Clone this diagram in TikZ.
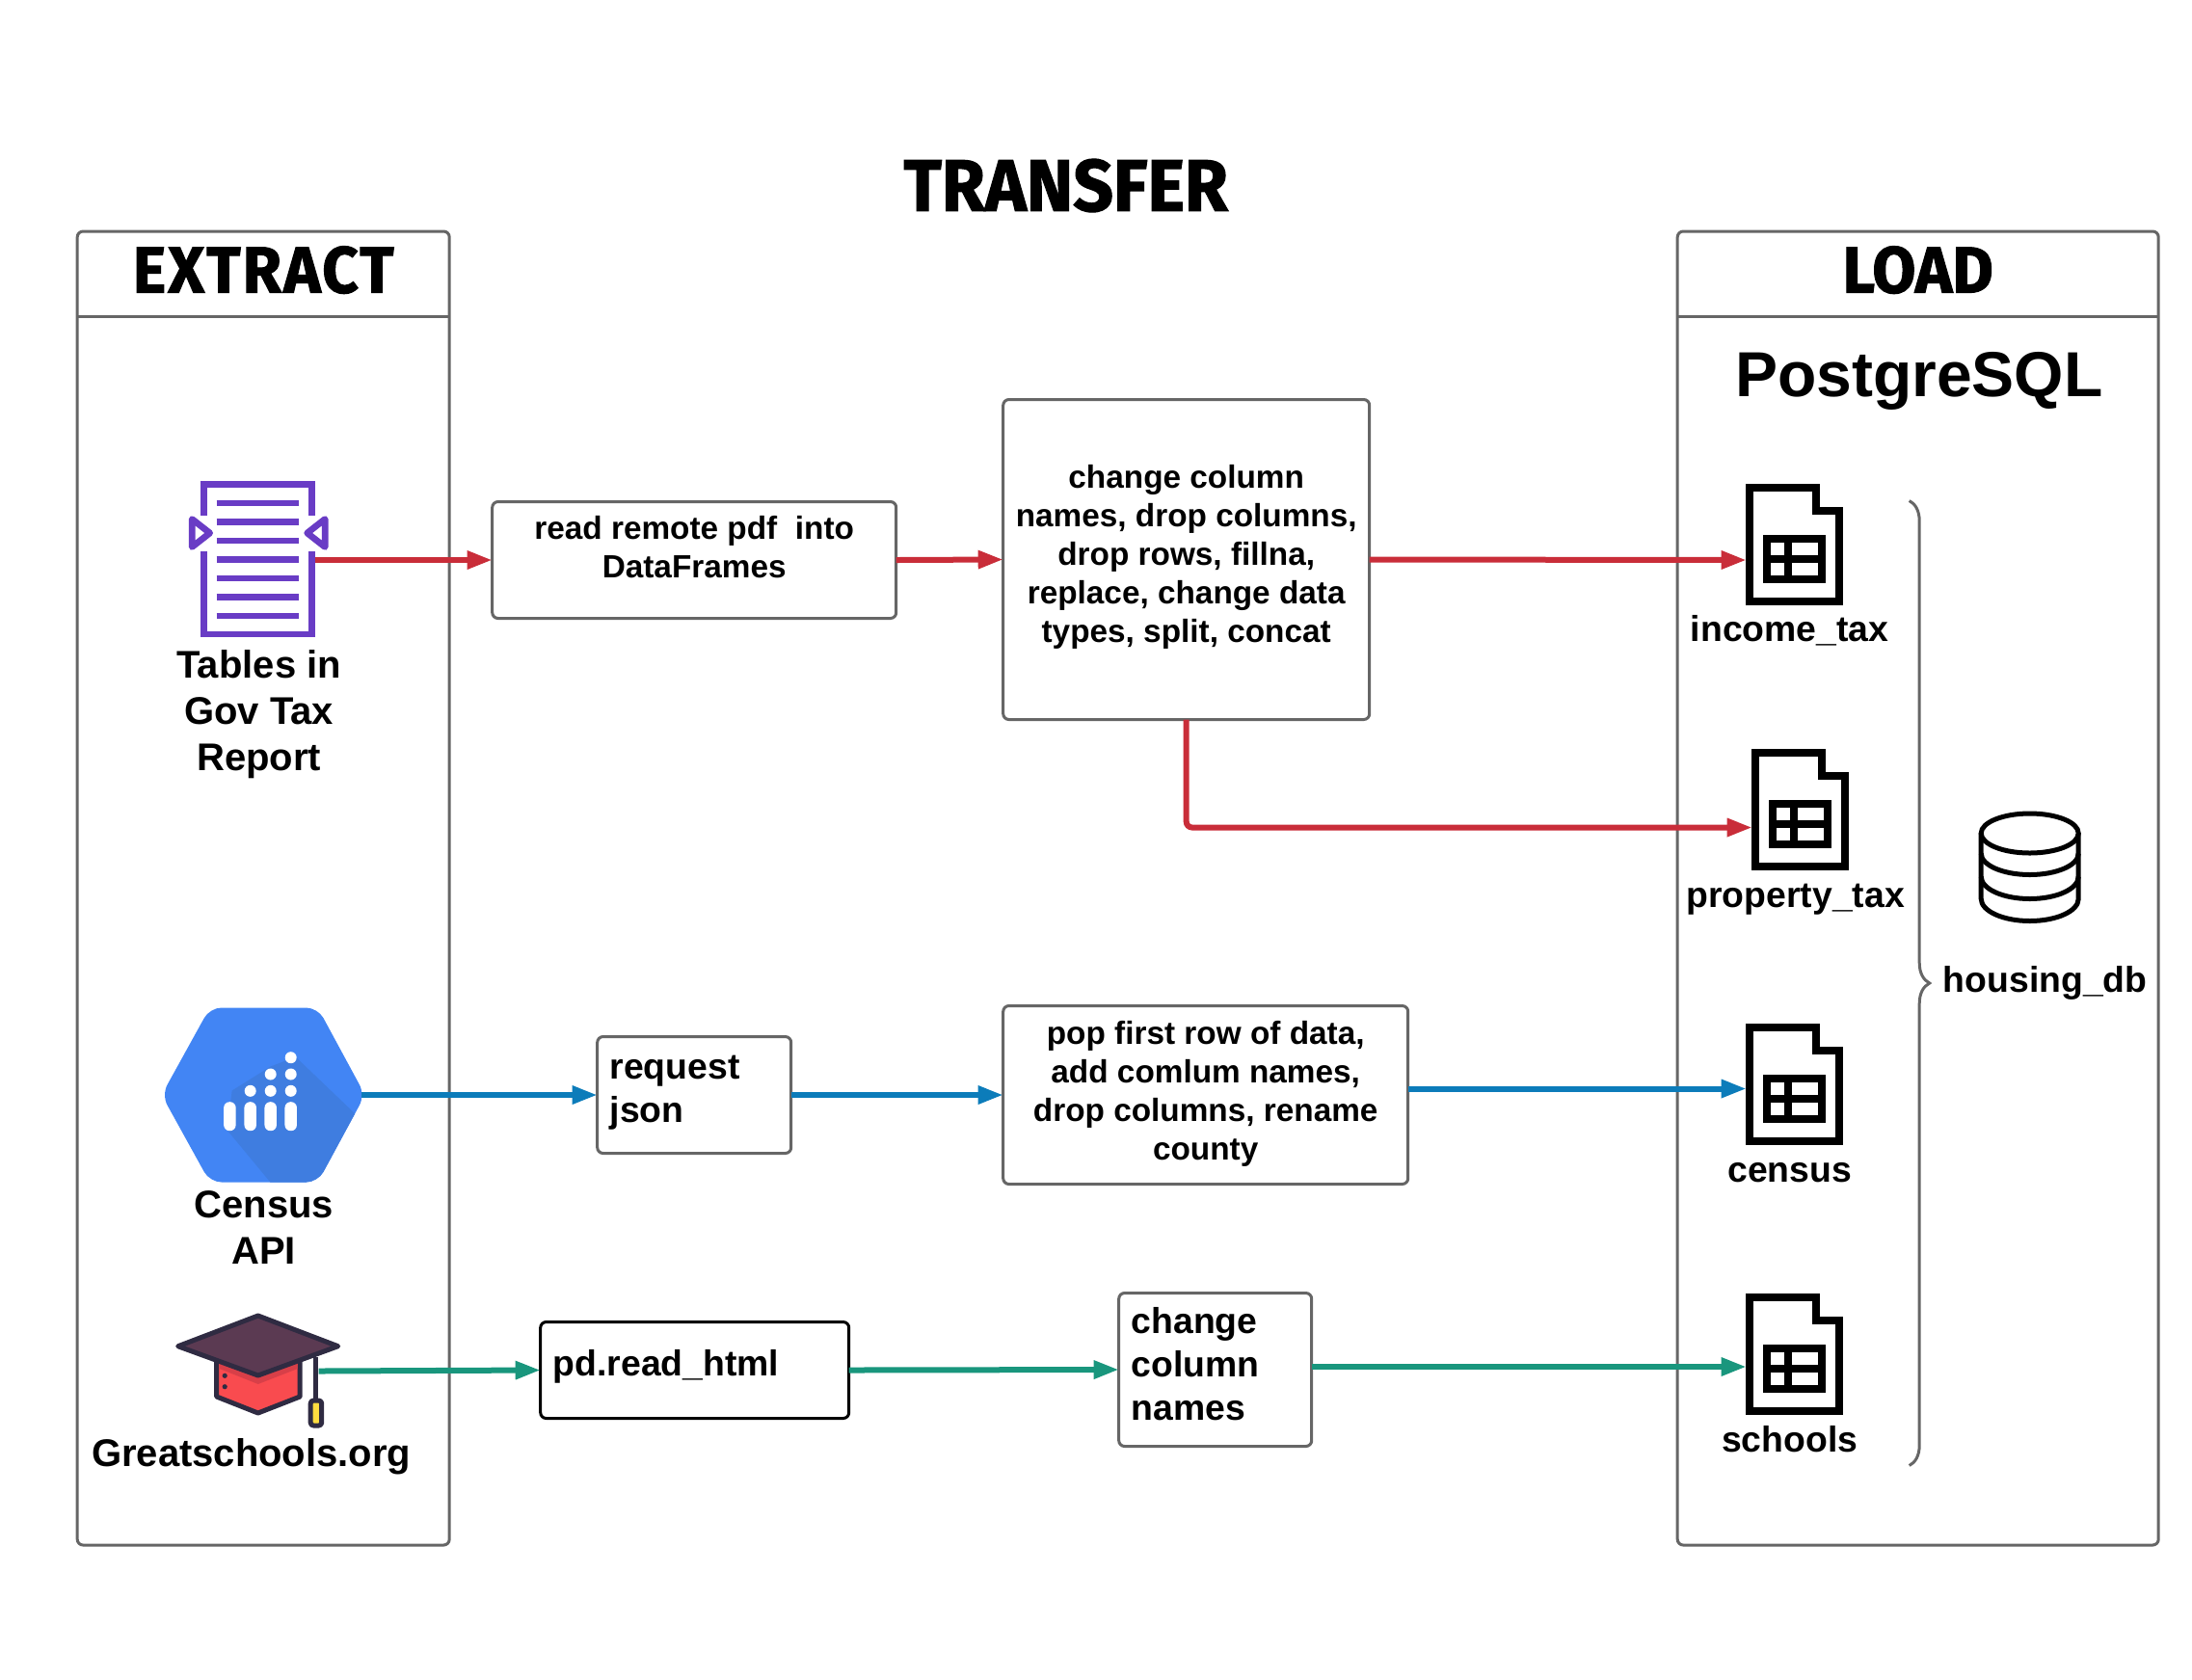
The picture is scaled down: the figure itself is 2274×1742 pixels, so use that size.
\documentclass[tikz,border=0pt]{standalone}
\usepackage{fontspec}
\setmainfont{Liberation Sans}
\newfontfamily\handfont[FakeStretch=0.96,FakeBold=1.5]{Fira Sans}
\usetikzlibrary{arrows.meta,decorations.pathreplacing}
\definecolor{edgegrey}{HTML}{666666}
\definecolor{flowred}{HTML}{C92D39}
\definecolor{flowblue}{HTML}{0C7CBA}
\definecolor{flowgreen}{HTML}{19967D}
\definecolor{pdfpurple}{HTML}{693CC5}
\definecolor{hexblue}{HTML}{4285F4}
\definecolor{hexshade}{HTML}{3F7DE0}
\definecolor{hatdark}{HTML}{2F2B42}
\definecolor{hatcap}{HTML}{5B3A52}
\definecolor{hatred}{HTML}{F94B4F}
\definecolor{hatband}{HTML}{D83F48}
\definecolor{hatgold}{HTML}{FFDD40}
\tikzset{
    panelbox/.style={draw=edgegrey,line width=1.5pt,rounded corners=3pt,inner sep=0pt,outer sep=0pt},
    headbox/.style={inner sep=0pt,outer sep=0pt,text depth=4.5pt,font=\fontsize{34}{40}\selectfont\handfont\bfseries},
    stepbox/.style={draw=edgegrey,line width=1.5pt,rounded corners=3pt,inner sep=0pt,outer sep=0pt,
        align=center,font=\fontsize{16.67}{20}\selectfont\bfseries},
    leftbox/.style={draw=edgegrey,line width=1.5pt,rounded corners=3pt,inner ysep=0pt,inner xsep=6.5pt,outer sep=0pt,
        align=left,font=\fontsize{18.67}{22.5}\selectfont\bfseries},
    srclabel/.style={align=center,inner sep=0pt,font=\fontsize{20}{24}\selectfont\bfseries},
    tablabel/.style={align=center,inner sep=0pt,font=\fontsize{18.67}{24}\selectfont\bfseries},
    redflow/.style={draw=flowred,line width=3pt,-{Triangle[length=13pt,width=9pt]}},
    blueflow/.style={draw=flowblue,line width=3pt,-{Triangle[length=13pt,width=9pt]}},
    greenflow/.style={draw=flowgreen,line width=3pt,-{Triangle[length=13pt,width=9pt]}},
    pics/tableicon/.style={code={
        \draw[line width=4pt,miter limit=10] (4,4) -- (73,4) -- (73,28) -- (97,28) -- (97,122) -- (4,122) -- cycle;
        \draw[line width=4pt] (22,57) rectangle (79,99.6);
        \draw[line width=4pt] (43.5,57) -- (43.5,99.6);
        \draw[line width=4pt] (22,78.8) -- (79,78.8);
    }}
}
\begin{document}
\begin{tikzpicture}[x=0.5pt,y=-0.5pt]
    \useasboundingbox (-0.7,-1.5) rectangle (2273.3,1740.5);

    \node[panelbox,minimum width=193pt,minimum height=681.5pt] (extractpanel) at (272.5,920) {};
    \node[headbox,minimum width=193pt,minimum height=44pt] (extracthead) at (272.5,282.5) {\addfontfeature{LetterSpace=3.2}EXTRACT};
    \draw[edgegrey,line width=1.5pt] (extracthead.south west) -- (extracthead.south east);

    \node[panelbox,minimum width=249.5pt,minimum height=681.5pt] (loadpanel) at (1989,920) {};
    \node[headbox,minimum width=249.5pt,minimum height=44pt] (loadhead) at (1989,282.5) {LOAD};
    \draw[edgegrey,line width=1.5pt] (loadhead.south west) -- (loadhead.south east);

    \node[inner sep=0pt,font=\fontsize{38}{44}\selectfont\handfont\bfseries] (transferhead) at (1105,191) {TRANSFER};
    \node[inner sep=0pt,font=\fontsize{33}{38}\selectfont\bfseries] (dbname) at (1990,394) {PostgreSQL};

    \begin{scope}[pdfpurple,line width=3.35pt]
        \draw (211,533) -- (211,501) -- (323,501) -- (323,533);
        \draw (211,570) -- (211,656.5) -- (323,656.5) -- (323,570);
        \draw[line join=round] (198.5,537) -- (217,551.5) -- (198.5,566) -- cycle;
        \draw[line join=round] (336.5,537) -- (318,551.5) -- (336.5,566) -- cycle;
        \foreach \liney in {520.5,540,559.4,579,598.6,618,637.5}
            \draw (224,\liney) -- (309,\liney);
    \end{scope}
    \coordinate (pdfout) at (326,579.5);
    \node[srclabel] (pdflabel) at (268,740) {Tables in\\Gov Tax\\Report};

    \begin{scope}
        \path[clip,rounded corners=6pt] (217,1044) -- (329,1044) -- (378,1134.5) -- (329,1225) -- (217,1225) -- (167,1134.5) -- cycle;
        \fill[hexblue] (160,1040) rectangle (390,1230);
        \fill[hexshade] (306,1095) -- (400,1185) -- (340,1235) -- (288,1235) -- (235,1171) -- (240,1130) -- (280,1105) -- cycle;
    \end{scope}
    \foreach \barx in {237.7,259,280,301}
        \fill[white,rounded corners=3pt] (\barx-6.25,1141.7) rectangle (\barx+6.25,1171.7);
    \foreach \dotx/\doty in {259/1130.3,280/1130.3,301/1130.3,280/1113,301/1113,301/1095.7}
        \fill[white] (\dotx,\doty) circle (3pt);
    \coordinate (hexout) at (374,1134.5);
    \node[srclabel] (hexlabel) at (273,1272) {Census\\API};

    \begin{scope}[hatdark,line width=2.5pt,line join=round,yshift=0.75pt]
        \filldraw[fill=hatred] (224,1405) -- (224,1449) -- (267,1466) -- (310.5,1449) -- (310.5,1405) -- cycle;
        \fill[hatband] (227,1420) -- (267,1436) -- (308,1420) -- (308,1412) -- (227,1412) -- cycle;
        \fill (232.5,1427.3) circle (1.3pt);
        \fill (232.5,1438.7) circle (1.3pt);
        \filldraw[fill=hatcap] (267,1365) -- (350,1396.7) -- (267,1427) -- (184,1396.7) -- cycle;
        \draw (327,1408) -- (327,1452);
        \filldraw[fill=hatgold,rounded corners=1.5pt] (321.5,1453) rectangle (333,1479);
    \end{scope}
    \coordinate (hatout) at (330,1421);
    \node[srclabel] (hatlabel) at (260,1510) {Greatschools.org};

    \node[stepbox,minimum width=209.5pt,minimum height=60.5pt,text depth=13.1pt] (readbox) at (719.5,579.5) {read remote pdf\ \ into\\DataFrames};
    \node[stepbox,minimum width=190pt,minimum height=166pt,text depth=5.8pt] (cleanbox) at (1230,579) {change column\\names, drop columns,\\drop rows, fillna,\\replace, change data\\types, split, concat};
    \node[leftbox,text width=87.5pt,minimum height=60.5pt,text depth=28.9pt] (requestbox) at (719.5,1134.5) {request\\json};
    \node[stepbox,minimum width=210pt,minimum height=92.5pt,text depth=5.1pt] (popbox) at (1250,1134.5) {pop first row of data,\\add comlum names,\\drop columns, rename\\county};
    \node[leftbox,draw=black,text width=147pt,minimum height=50pt,text depth=7.25pt] (htmlbox) at (720,1420) {pd.read\_html};
    \node[leftbox,text width=87pt,minimum height=79.5pt,text depth=50.75pt] (renamebox) at (1260,1419.5) {change\\column\\names};

    \pic at (1810.5,500) {tableicon};
    \pic at (1816.5,775) {tableicon};
    \pic at (1810.5,1060) {tableicon};
    \pic at (1810.5,1340) {tableicon};
    \coordinate (incomein) at (1811,579.5);
    \coordinate (propertyin) at (1817,857);
    \coordinate (censusin) at (1811,1128);
    \coordinate (schoolsin) at (1811,1416.5);
    \coordinate (propertybend) at (1230,857);
    \node[tablabel] (incomelabel) at (1856,653) {income\_tax};
    \node[tablabel] (propertylabel) at (1862,932) {property\_tax};
    \node[tablabel] (censuslabel) at (1856,1215) {census};
    \node[tablabel] (schoolslabel) at (1856,1492) {schools};

    \draw[edgegrey,line width=1.5pt,decorate,decoration={brace,amplitude=10.5pt}] (1980,518) -- (1980,1519);

    \begin{scope}[line width=2.5pt]
        \draw (2105,863) ellipse (50.5 and 20.5);
        \draw (2054.5,863) -- (2054.5,931) arc (180:0:50.5 and 23) -- (2155.5,863);
        \draw (2054.5,884) arc (180:0:50.5 and 22);
        \draw (2054.5,908) arc (180:0:50.5 and 23);
    \end{scope}
    \node[tablabel] (dblabel) at (2121,1018) {housing\_db};

    \draw[redflow] (pdfout) -- (readbox.west);
    \draw[redflow] (readbox.east) -- (cleanbox.west);
    \draw[redflow] (cleanbox.east) -- (incomein);
    \draw[redflow,rounded corners=3pt] (cleanbox.south) -- (propertybend) -- (propertyin);
    \draw[blueflow] (hexout) -- (requestbox.west);
    \draw[blueflow] (requestbox.east) -- (popbox.west);
    \draw[blueflow] (popbox.east |- censusin) -- (censusin);
    \draw[greenflow] (hatout) -- (htmlbox.west);
    \draw[greenflow] (htmlbox.east) -- (renamebox.west);
    \draw[greenflow] (renamebox.east |- schoolsin) -- (schoolsin);
\end{tikzpicture}
\end{document}
